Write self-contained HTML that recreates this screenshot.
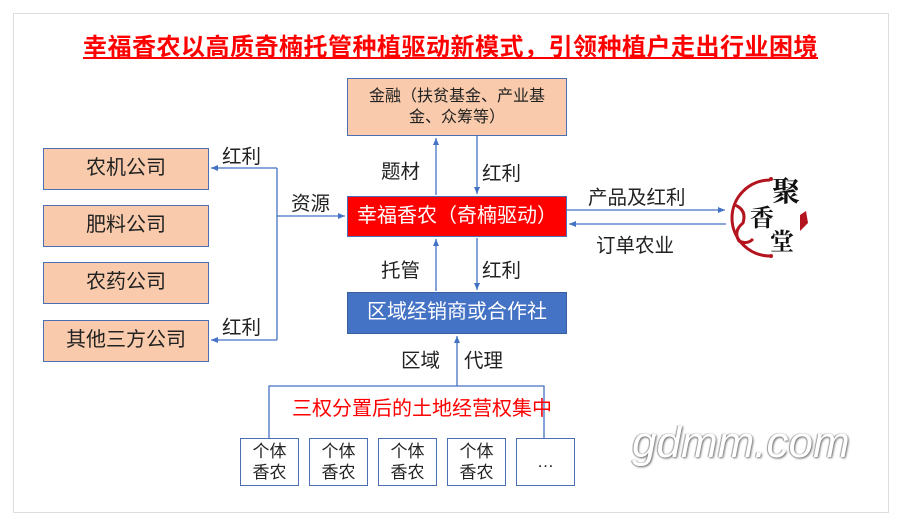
<!DOCTYPE html>
<html><head><meta charset="utf-8"><style>
body{margin:0;width:900px;height:504px;background:#fff;position:relative;overflow:hidden;font-family:"Liberation Sans","Noto Sans CJK SC",sans-serif;}
.a{position:absolute;box-sizing:border-box;}
.or{background:#f9cbac;border:1.5px solid #4a6fb5;font-size:20px;color:#222;text-align:center;}
.t{position:absolute;font-size:19.5px;color:#222;white-space:nowrap;}
.sm{border:1.5px solid #4a6fb5;background:#fff;font-size:17px;line-height:21px;text-align:center;color:#222;padding-top:2px;}
</style></head><body>
<div class="a" style="left:13px;top:13px;width:876px;height:500px;border:1px solid #ddd;"></div>
<div class="t" style="left:83px;top:27px;font-size:24px;font-weight:bold;color:#f00;text-decoration:underline;letter-spacing:0.5px;">幸福香农以高质奇楠托管种植驱动新模式，引领种植户走出行业困境</div>

<div class="a or" style="left:43px;top:148px;width:166px;height:42px;line-height:39px;">农机公司</div>
<div class="a or" style="left:43px;top:205px;width:166px;height:42px;line-height:39px;">肥料公司</div>
<div class="a or" style="left:43px;top:262px;width:166px;height:42px;line-height:39px;">农药公司</div>
<div class="a or" style="left:43px;top:320px;width:166px;height:42px;line-height:39px;">其他三方公司</div>

<div class="a or" style="left:347px;top:78px;width:220px;height:58px;font-size:16px;line-height:21px;padding-top:7px;">金融（扶贫基金、产业基<br>金、众筹等）</div>
<div class="a" style="left:347px;top:196px;width:220px;height:41px;background:#f00;border:1.5px solid #4a6fb5;color:#fff;font-size:20px;line-height:38px;text-align:center;">幸福香农（奇楠驱动）</div>
<div class="a" style="left:347px;top:292px;width:220px;height:42px;background:#4472c4;border:1.5px solid #3a5fa0;color:#fff;font-size:20px;line-height:39px;text-align:center;">区域经销商或合作社</div>

<svg class="a" style="left:0;top:0" width="900" height="504">
<defs><marker id="m" markerWidth="8" markerHeight="8" refX="7" refY="4" orient="auto" markerUnits="userSpaceOnUse"><path d="M0,1 L7,4 L0,7z" fill="#4472c4"/></marker></defs>
<g stroke="#4472c4" stroke-width="1.3" fill="none">
<path d="M277,168 H211" marker-end="url(#m)"/>
<path d="M277,340 H211" marker-end="url(#m)"/>
<path d="M277,168 V340"/>
<path d="M277,216 H345" marker-end="url(#m)"/>
<path d="M436,195 V138" marker-end="url(#m)"/>
<path d="M477,136 V194" marker-end="url(#m)"/>
<path d="M436,291 V239" marker-end="url(#m)"/>
<path d="M477,238 V290" marker-end="url(#m)"/>
<path d="M567,210 H725" marker-end="url(#m)"/>
<path d="M726,224 H569" marker-end="url(#m)"/>
<path d="M457,386 V336" marker-end="url(#m)"/>
<path d="M269,438 V386 H544 V438"/>
</g>
<g fill="none" stroke="#b3141e" stroke-width="3">
<path d="M770,180 A38,38 0 0 0 770,256"/>
</g>
<path d="M735,205 q12,5 8,18 q-10,8 -4,18 q8,4 14,-2" stroke="#b3141e" stroke-width="3" fill="none"/>
<circle cx="771" cy="179" r="2" fill="#b3141e"/><circle cx="771" cy="256" r="2" fill="#b3141e"/>
<path d="M800,215 l6,-4 l2,12 l-8,8 z" fill="#b3141e"/>
</svg>

<div class="t" style="left:222px;top:140px;">红利</div>
<div class="t" style="left:222px;top:311px;">红利</div>
<div class="t" style="left:291px;top:187px;">资源</div>
<div class="t" style="left:381px;top:155px;">题材</div>
<div class="t" style="left:482px;top:157px;">红利</div>
<div class="t" style="left:381px;top:254px;">托管</div>
<div class="t" style="left:482px;top:254px;">红利</div>
<div class="t" style="left:588px;top:181px;">产品及红利</div>
<div class="t" style="left:596px;top:229px;">订单农业</div>
<div class="t" style="left:401px;top:344px;">区域</div>
<div class="t" style="left:464px;top:344px;">代理</div>
<div class="t" style="left:292px;top:392px;color:#f00;font-size:20px;">三权分置后的土地经营权集中</div>

<div class="t" style="left:772px;top:170px;font-family:'Noto Serif CJK SC',serif;font-size:28px;font-weight:bold;color:#111;">聚</div>
<div class="t" style="left:750px;top:198px;font-family:'Noto Serif CJK SC',serif;font-size:24px;font-weight:bold;color:#111;">香</div>
<div class="t" style="left:770px;top:222px;font-family:'Noto Serif CJK SC',serif;font-size:24px;font-weight:bold;color:#111;">堂</div>

<div class="a sm" style="left:240px;top:438px;width:59px;height:48px;">个体<br>香农</div>
<div class="a sm" style="left:309px;top:438px;width:59px;height:48px;">个体<br>香农</div>
<div class="a sm" style="left:378px;top:438px;width:59px;height:48px;">个体<br>香农</div>
<div class="a sm" style="left:447px;top:438px;width:59px;height:48px;">个体<br>香农</div>
<div class="a sm" style="left:516px;top:438px;width:59px;height:48px;padding-top:12px;">…</div>

<div class="t" style="left:632px;top:418px;font-size:44px;color:#fff;font-style:italic;text-shadow:1px 1px 2px #666,-1px 0 1px #999;">gdmm.com</div>
</body></html>
